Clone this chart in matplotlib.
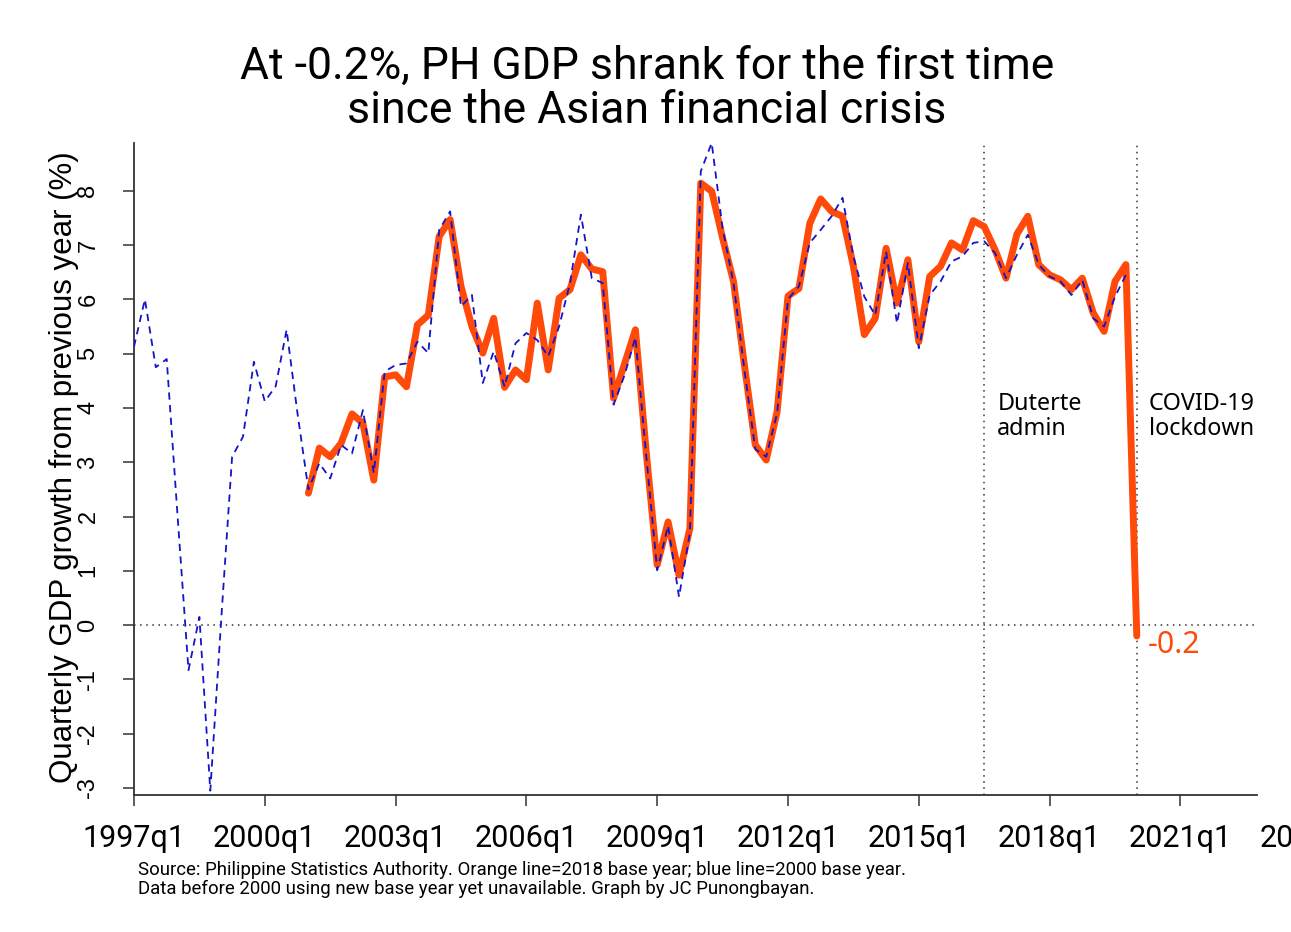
import matplotlib
matplotlib.use("Agg")
import matplotlib.pyplot as plt

W, H = 1291, 932
ORANGE = "#FF4A0A"
BLUE = "#1414C8"
GREY = "#333333"


def q(label):
    # quarter index counted from 1997q1
    year, qtr = label.split("q")
    return (int(year) - 1997) * 4 + int(qtr) - 1


# 2000 base year series, 1997q1 - 2019q4
blue_start = "1997q1"
blue_growth = [
    5.13, 6.0, 4.75, 4.9, 2.0, -0.83, 0.15, -3.05,
    0.1, 3.1, 3.47, 4.85, 4.12, 4.4, 5.44, 3.9,
    2.5, 2.98, 2.7, 3.32, 3.16, 3.96, 2.8, 4.67,
    4.79, 4.82, 5.22, 5.01, 7.28, 7.62, 5.87, 6.08,
    4.46, 5.04, 4.39, 5.19, 5.38, 5.25, 4.95, 5.5,
    6.3, 7.56, 6.39, 6.3, 4.06, 4.6, 5.3, 3.1,
    1.01, 1.83, 0.52, 1.7, 8.36, 8.88, 7.31, 6.3,
    4.7, 3.24, 3.1, 3.9, 6.0, 6.24, 7.04, 7.28,
    7.53, 7.87, 6.79, 6.05, 5.71, 6.88, 5.56, 6.67,
    5.1, 6.08, 6.33, 6.7, 6.79, 7.04, 7.07, 6.85,
    6.39, 6.82, 7.19, 6.64, 6.42, 6.33, 6.08, 6.36,
    5.65, 5.5, 6.05, 6.45,
]

# 2018 base year series, 2001q1 - 2020q1
orange_start = "2001q1"
orange_growth = [
    2.43, 3.26, 3.1, 3.35, 3.89, 3.72, 2.67, 4.57,
    4.61, 4.39, 5.53, 5.71, 7.16, 7.47, 6.24, 5.5,
    5.01, 5.65, 4.38, 4.7, 4.52, 5.93, 4.7, 6.02,
    6.18, 6.82, 6.56, 6.51, 4.18, 4.81, 5.44, 3.17,
    1.11, 1.9, 0.92, 1.78, 8.14, 7.99, 7.13, 6.33,
    4.79, 3.32, 3.04, 3.93, 6.06, 6.2, 7.4, 7.85,
    7.62, 7.53, 6.61, 5.35, 5.65, 6.94, 5.93, 6.73,
    5.22, 6.42, 6.61, 7.04, 6.91, 7.45, 7.34, 6.91,
    6.39, 7.2, 7.53, 6.64, 6.45, 6.36, 6.18, 6.39,
    5.75, 5.41, 6.33, 6.64, -0.2,
]

tick_years = list(range(1997, 2025, 3))
y_ticks = list(range(-3, 9))
duterte_q = "2016q3"
covid_q = "2020q1"

blue_x = [q(blue_start) + i for i in range(len(blue_growth))]
orange_x = [q(orange_start) + i for i in range(len(orange_growth))]

fig = plt.figure(figsize=(W / 100, H / 100), dpi=100)
ax = fig.add_axes([134 / W, 1 - 795 / H, (1256.7 - 134) / W, (795 - 143) / H])

ax.plot(orange_x, orange_growth, color=ORANGE, lw=5,
        solid_joinstyle="round", solid_capstyle="round", zorder=3)
ax.plot(blue_x, blue_growth, color=BLUE, lw=1.3, ls=(0, (4, 3)), zorder=4)

ax.axhline(0, color=GREY, lw=1.1, ls=(0, (1, 3)), zorder=1)
for lab in (duterte_q, covid_q):
    ax.axvline(q(lab), color=GREY, lw=1.1, ls=(0, (1, 3)), zorder=1)

ax.set_xlim(0, 103)
ax.set_ylim(-3.13, 8.88)

# x ticks: the ones inside the plot, the last one hangs off the edge
x_in = [y for y in tick_years if q(f"{y}q1") <= 103]
x_out = [y for y in tick_years if q(f"{y}q1") > 103]
ax.set_xticks([q(f"{y}q1") for y in x_in])
ax.set_xticklabels([f"{y}q1" for y in x_in], family="Roboto", fontsize=22)
for y in x_out:
    ax.text(q(f"{y}q1"), -0.0445, f"{y}q1", transform=ax.get_xaxis_transform(),
            ha="center", va="top", family="Roboto", fontsize=22, clip_on=False)

ax.set_yticks(y_ticks)
ax.set_yticklabels([str(v) for v in y_ticks], family="Liberation Sans",
                   fontsize=17, rotation=90, va="center")

ax.tick_params(axis="x", length=7.9, width=1.1, pad=13, color=GREY)
ax.tick_params(axis="y", length=7.9, width=1.1, pad=17, color=GREY)
for side in ("top", "right"):
    ax.spines[side].set_visible(False)
for side in ("left", "bottom"):
    ax.spines[side].set_linewidth(1.3)
    ax.spines[side].set_color(GREY)

fig.text(64 / W, 1 - 467 / H, "Quarterly GDP growth from previous year (%)",
         rotation=90, ha="center", va="center", family="Liberation Sans", fontsize=22.5)

fig.text(647 / W, 1 - 79 / H, "At -0.2%, PH GDP shrank for the first time",
         ha="center", va="baseline", family="Roboto", fontsize=32)
fig.text(647 / W, 1 - 123 / H, "since the Asian financial crisis",
         ha="center", va="baseline", family="Roboto", fontsize=32)

ax.text(q(duterte_q) + 1.2, 3.96, "Duterte", family="Noto Sans", fontsize=16.8, va="baseline")
ax.text(q(duterte_q) + 1.2, 3.50, "admin", family="Noto Sans", fontsize=16.8, va="baseline")
ax.text(q(covid_q) + 1.1, 3.96, "COVID-19", family="Noto Sans", fontsize=16.8, va="baseline")
ax.text(q(covid_q) + 1.1, 3.50, "lockdown", family="Noto Sans", fontsize=16.8, va="baseline")
ax.text(q(covid_q) + 1.0, -0.52, f"{orange_growth[-1]:.1f}", color=ORANGE,
        family="Noto Sans", fontsize=21.8, va="baseline")

fig.text(138 / W, 1 - 875 / H,
         "Source: Philippine Statistics Authority. Orange line=2018 base year; blue line=2000 base year.",
         ha="left", va="baseline", family="Roboto", fontsize=13.4)
fig.text(138 / W, 1 - 894 / H,
         "Data before 2000 using new base year yet unavailable. Graph by JC Punongbayan.",
         ha="left", va="baseline", family="Roboto", fontsize=13.4)

fig.savefig("out.png", dpi=100)
